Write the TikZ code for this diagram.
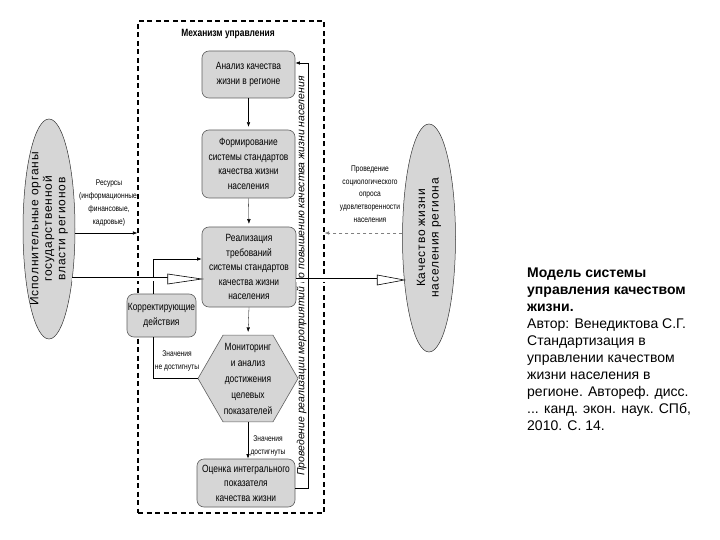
\documentclass[tikz,border=0pt]{standalone}
\usepackage{fontspec}
\setmainfont{Liberation Sans}
\newfontfamily\nrw[FakeStretch=0.8]{Liberation Sans}
\newfontfamily\wide[LetterSpace=7]{Liberation Sans}
\usetikzlibrary{arrows.meta,calc,shapes.geometric}
\definecolor{boxfill}{HTML}{D6D6D6}
\definecolor{boxline}{HTML}{606060}
\begin{document}
\begin{tikzpicture}[x=1pt,y=-1pt,
  box/.style={draw=boxline, fill=boxfill, rounded corners=7pt, line width=0.6pt, align=center, font=\nrw\fontsize{10.5}{14.5}\selectfont, inner sep=0pt},
  lbl/.style={align=center, font=\nrw\fontsize{8.3}{12.7}\selectfont, inner sep=0pt},
  arr/.style={line width=0.6pt, -{Latex[length=4.5pt,width=3.5pt]}},
  arrthin/.style={line width=0.3pt, shorten >=3pt, -{Latex[length=4.5pt,width=3.5pt]}},
  plain/.style={line width=0.6pt},
  ell/.style={draw=black!80, fill=boxfill, ellipse, line width=0.5pt, inner sep=0pt},
  dbl/.style={double, double distance=3pt, line width=0.6pt},
  tri/.style={fill=white, draw, line width=0.6pt, line join=miter},
  elltext/.style={rotate=90, align=center, font=\wide\fontsize{12}{13.5}\selectfont, inner sep=0pt}
]
\useasboundingbox (0,0) rectangle (720,540);
\fill[white] (0,0) rectangle (720,540);

% frame
\node[draw, dash pattern=on 5pt off 3.5pt, line width=1.1pt, minimum width=186pt, minimum height=492pt, inner sep=0pt] (mech) at (231,267) {};
\node[font=\nrw\bfseries\fontsize{10.5}{12}\selectfont, inner sep=0pt] (title) at (228,34) {Механизм управления};

% boxes
\node[box, minimum width=93pt, minimum height=47pt] (b1) at (248.5,74.5) {Анализ качества\\жизни в регионе};
\node[box, minimum width=93pt, minimum height=68pt] (b2) at (248.5,164) {Формирование\\системы стандартов\\качества жизни\\населения};
\node[box, minimum width=94pt, minimum height=80pt] (b3) at (249,267) {Реализация\\требований\\системы стандартов\\качества жизни\\населения};
\node[box, minimum width=69pt, minimum height=43pt] (corr) at (161.5,315.5) {Корректирующие\\действия};
\node[regular polygon, regular polygon sides=6, minimum size=100pt, draw=boxline, fill=boxfill, line width=0.6pt, inner sep=0pt] (hex) at (248,378.5) {};
\node[align=center, font=\nrw\fontsize{10.5}{16}\selectfont, inner sep=0pt] (hext) at (hex) {Мониторинг\\и анализ\\достижения\\целевых\\показателей};
\node[box, minimum width=98pt, minimum height=48pt] (bb) at (246,483) {Оценка интегрального\\показателя\\качества жизни};

% ellipses
\node[ell, minimum width=52pt, minimum height=220pt] (L) at (49,229) {};
\node[elltext] (Lt) at (L) {Исполнительные органы\\государственной\\власти регионов};
\node[ell, minimum width=53pt, minimum height=228pt] (R) at (429,238) {};
\node[elltext] (Rt) at (R) {Качество жизни\\населения региона};

% labels
\node[lbl] (res) at (109,203) {Ресурсы\\(информационные,\\финансовые,\\кадровые)};
\node[lbl] (opr) at (370,194) {Проведение\\социологического\\опроса\\удовлетворенности\\населения};
\node[lbl] (nd) at (177,361) {Значения\\не достигнуты};
\node[lbl] (d) at (268,446) {Значения\\достигнуты};
\node[rotate=90, font=\itshape\fontsize{10.4}{12}\selectfont, inner sep=0pt] (vtext) at (301.5,276) {Проведение реализации мероприятий по повышению качества жизни населения};

% connectors
\draw[arrthin] (b1.south) -- (b2.north);
\draw[arrthin] (b2.south) -- (b3.north);
\draw[arrthin] (b3.south) -- (hex.north);
\draw[arr] (hex.south) -- (hex.south |- bb.north);
\draw[plain] (hex.west) -| ([xshift=-8pt]corr.south);
\draw[arr] ([xshift=-8pt]corr.north) |- ([yshift=8pt]b3.west);
\draw[arr] ([yshift=-4pt]L.east) -- ([yshift=-4pt]L.east -| mech.west);

\coordinate (tipL) at ([yshift=-12pt]b3.west);
\coordinate (sL) at (L.east |- tipL);
\draw[dbl] ([xshift=-3pt]sL) -- ([xshift=-34pt]tipL);
\draw[tri] ([xshift=-34pt,yshift=5pt]tipL) -- (tipL) -- ([xshift=-34pt,yshift=-5pt]tipL) -- cycle;

\coordinate (sR) at ([yshift=-13pt]b3.east);
\coordinate (tR0) at (R.west |- sR);
\coordinate (tR) at ([xshift=2pt]tR0);
\draw[dbl] (sR) -- ([xshift=-27pt]tR);
\draw[tri] ([xshift=-27pt,yshift=5pt]tR) -- (tR) -- ([xshift=-27pt,yshift=-5pt]tR) -- cycle;

\draw[arr, gray, dashed] ([yshift=5pt]R.west) -- ([yshift=5pt]R.west -| mech.east);

\coordinate (vb) at (308,488);
\coordinate (vt) at (308,63);
\draw[arr] ([yshift=-5pt]bb.east) -- (vb) -- (vt) -- (vt -| b1.east);

% caption
\node[anchor=north west, align=left, font=\fontsize{14}{17}\selectfont, inner sep=0pt] (cap) at (527,268) {\textbf{Модель системы}\\\textbf{управления качеством}\\\textbf{жизни.}\\Автор: Венедиктова С.Г.\\Стандартизация в\\управлении качеством\\жизни населения в\\регионе. Автореф. дисс.\\... канд. экон. наук. СПб,\\2010. С. 14.};
\end{tikzpicture}
\end{document}
